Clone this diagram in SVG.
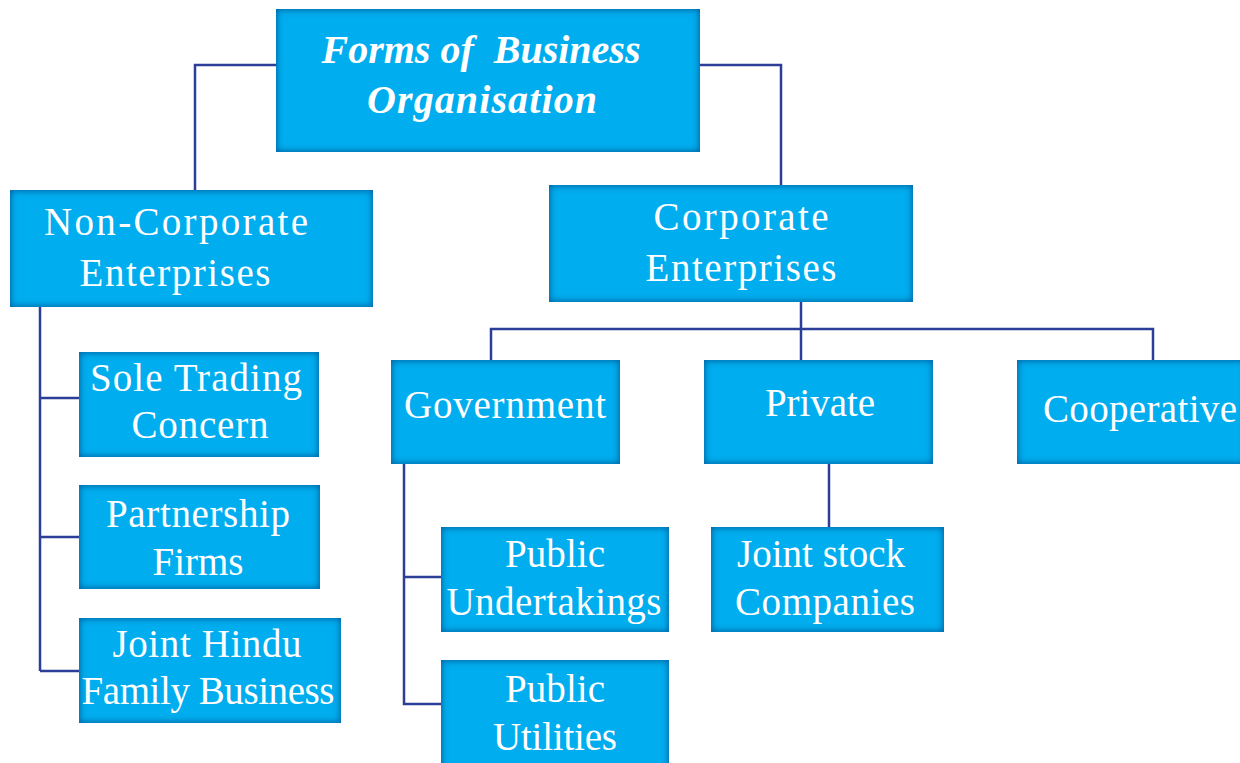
<svg xmlns="http://www.w3.org/2000/svg" width="1240" height="763" viewBox="0 0 1240 763">
<style>
.box{fill:#00adee;filter:url(#inset)}
.t{font-family:"Liberation Serif","Times New Roman",serif;font-size:39px;fill:#ffffff;text-anchor:middle}
.ti{font-weight:bold;font-style:italic;font-size:40px;white-space:pre}
.c{fill:none;stroke:#2b3f99;stroke-width:2.5;stroke-linejoin:miter}
</style>
<defs>
<filter id="inset" x="-5%" y="-5%" width="110%" height="110%">
<feFlood flood-color="#0668ab" result="f"/>
<feComposite in="f" in2="SourceAlpha" operator="out" result="o"/>
<feGaussianBlur in="o" stdDeviation="3.5" result="b"/>
<feComposite in="b" in2="SourceAlpha" operator="in" result="s"/>
<feMerge><feMergeNode in="SourceGraphic"/><feMergeNode in="s"/><feMergeNode in="s"/></feMerge>
</filter>
</defs>
<rect width="1240" height="763" fill="#ffffff"/>
<g id="connectors">
<path class="c" d="M276 65 H195 V190"/>
<path class="c" d="M700 65 H781 V185"/>
<path class="c" d="M40 307 V671 M40 398 H79 M40 537 H79 M40 671 H79"/>
<path class="c" d="M801 302 V361 M491 361 V329 H1153 V361"/>
<path class="c" d="M404 464 V704 H441 M404 577 H441"/>
<path class="c" d="M829 464 V528"/>
</g>
<g id="root"><rect class="box" x="276" y="9" width="424" height="143"/>
<text class="t ti" x="481" y="63" textLength="319" xml:space="preserve">Forms of  Business</text>
<text class="t ti" x="482" y="113" textLength="230">Organisation</text></g>
<g id="noncorp"><rect class="box" x="10" y="190" width="363" height="117"/>
<text class="t" x="176" y="235" textLength="264">Non-Corporate</text>
<text class="t" x="175" y="286" textLength="191">Enterprises</text></g>
<g id="corp"><rect class="box" x="549" y="185" width="364" height="117"/>
<text class="t" x="741" y="230" textLength="175">Corporate</text>
<text class="t" x="741" y="281" textLength="191">Enterprises</text></g>
<g id="sole"><rect class="box" x="79" y="352" width="240" height="105"/>
<text class="t" x="196" y="391" textLength="212">Sole Trading</text>
<text class="t" x="200" y="438" textLength="137">Concern</text></g>
<g id="partnership"><rect class="box" x="79" y="485" width="241" height="104"/>
<text class="t" x="198" y="527" textLength="184">Partnership</text>
<text class="t" x="198" y="575" textLength="91">Firms</text></g>
<g id="hindu"><rect class="box" x="79" y="618" width="262" height="105"/>
<text class="t" x="207" y="657" textLength="189">Joint Hindu</text>
<text class="t" x="208" y="704" textLength="253">Family Business</text></g>
<g id="government"><rect class="box" x="391" y="360" width="229" height="104"/>
<text class="t" x="505" y="418" textLength="202">Government</text></g>
<g id="private"><rect class="box" x="704" y="360" width="229" height="104"/>
<text class="t" x="820" y="416" textLength="110">Private</text></g>
<g id="cooperative"><rect class="box" x="1017" y="360" width="230" height="104"/>
<text class="t" x="1140" y="422" textLength="194">Cooperative</text></g>
<g id="undertakings"><rect class="box" x="441" y="527" width="228" height="105"/>
<text class="t" x="555" y="567" textLength="100">Public</text>
<text class="t" x="554" y="615" textLength="215">Undertakings</text></g>
<g id="utilities"><rect class="box" x="441" y="660" width="228" height="110"/>
<text class="t" x="555" y="702" textLength="100">Public</text>
<text class="t" x="555" y="750" textLength="124">Utilities</text></g>
<g id="jointstock"><rect class="box" x="711" y="527" width="233" height="105"/>
<text class="t" x="821" y="567" textLength="168">Joint stock</text>
<text class="t" x="825" y="615" textLength="180">Companies</text></g>
</svg>
